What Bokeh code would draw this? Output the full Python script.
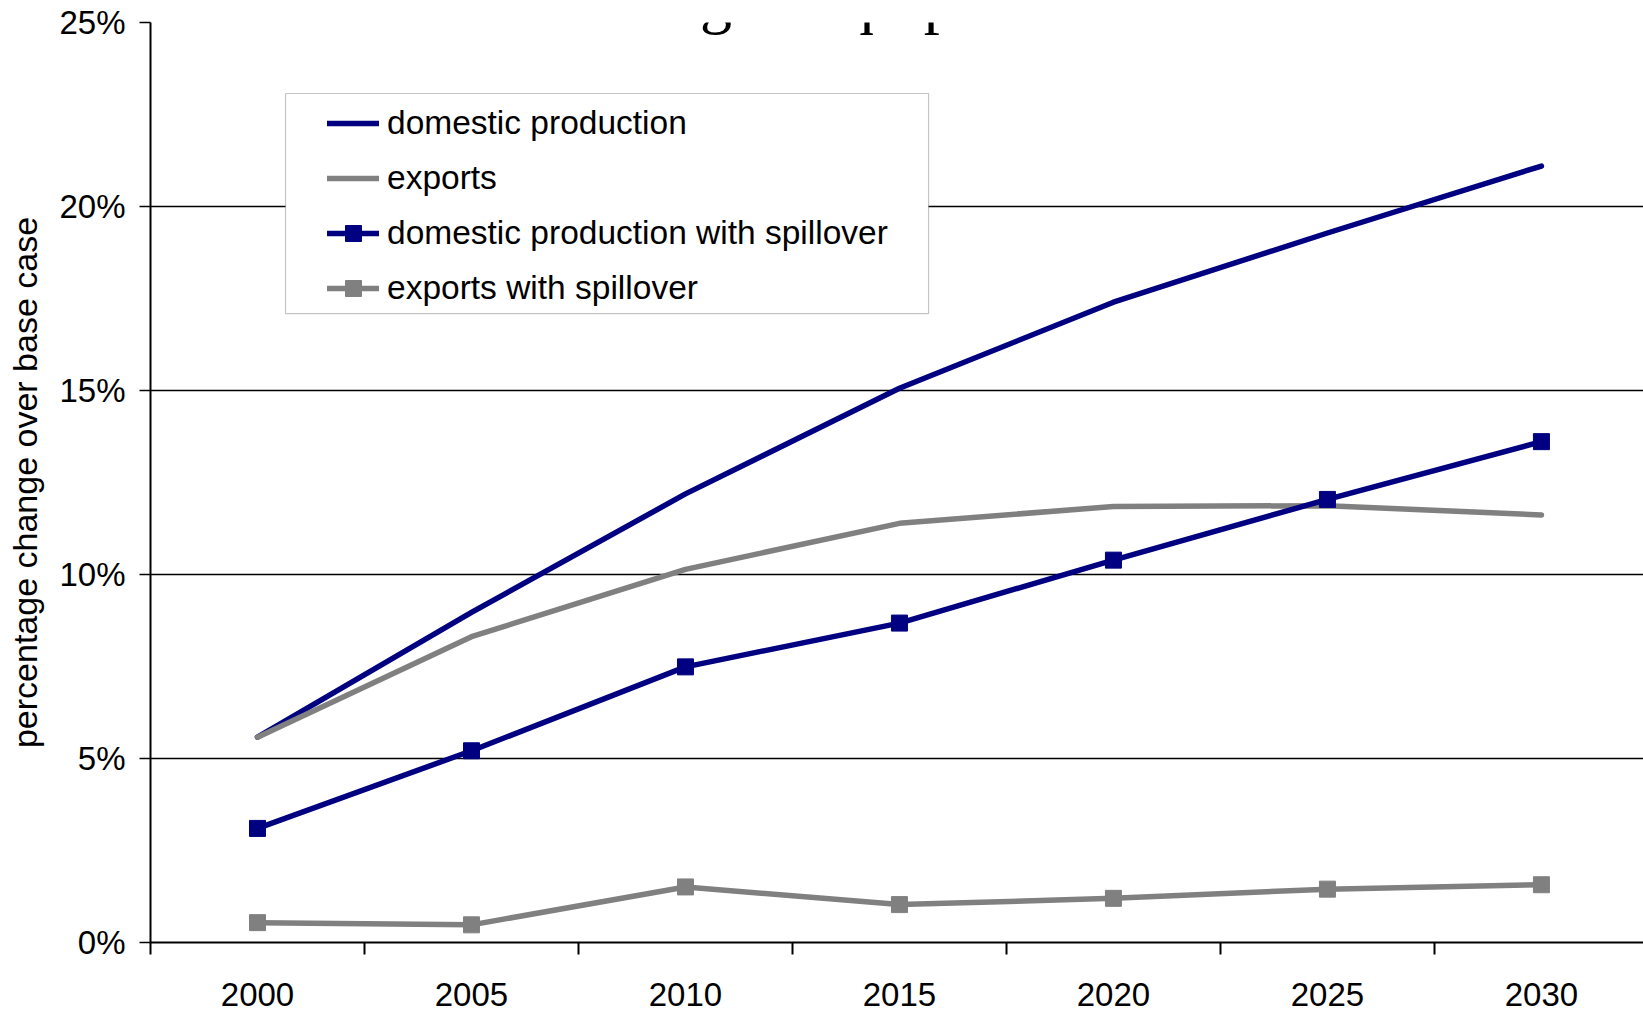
from bokeh.plotting import figure
from bokeh.embed import file_html
from bokeh.resources import INLINE
from bokeh.models import (FixedTicker, PrintfTickFormatter, Legend, LegendItem,
                          Label, BoxAnnotation, Range1d)

# ---- data ----
years = ["2000", "2005", "2010", "2015", "2020", "2025", "2030"]
domestic = [5.58, 8.97, 12.19, 15.06, 17.40, 19.28, 21.10]
exports = [5.58, 8.31, 10.14, 11.39, 11.85, 11.87, 11.62]
domestic_spill = [3.10, 5.21, 7.49, 8.68, 10.39, 12.04, 13.61]
exports_spill = [0.54, 0.48, 1.51, 1.03, 1.20, 1.45, 1.57]
y_ticks = [0, 5, 10, 15, 20, 25]
title_text = "Scenario with learning in equipment sector"
y_label = "percentage change over base case"

NAVY = "#000080"
GRAY = "#808080"
FONT = "Liberation Sans"
LW = 5.5

xs = list(range(len(years)))

p = figure(width=1643, height=1016, output_backend="svg", toolbar_location=None,
           x_range=Range1d(-0.5, 6.477), y_range=Range1d(0, 25),
           min_border_left=150, min_border_right=0, min_border_top=22,
           min_border_bottom=74)
p.outline_line_color = None
p.background_fill_color = "white"
p.border_fill_color = "white"

# axes
xa = p.xaxis[0]
xa.ticker = FixedTicker(ticks=xs, minor_ticks=[i - 0.5 for i in range(len(years) + 1)])
xa.major_label_overrides = {i: y for i, y in enumerate(years)}
xa.major_tick_line_color = None
xa.major_tick_out = 0
xa.major_tick_in = 0
xa.minor_tick_out = 12
xa.minor_tick_in = 0
xa.minor_tick_line_color = "black"
xa.minor_tick_line_width = 2
xa.axis_line_width = 2
xa.axis_line_color = "black"
xa.major_label_text_font = FONT
xa.major_label_text_font_size = "33px"
xa.major_label_text_color = "black"
xa.major_label_standoff = 28

ya = p.yaxis[0]
ya.ticker = FixedTicker(ticks=y_ticks, minor_ticks=[])
ya.formatter = PrintfTickFormatter(format="%d%%")
ya.major_tick_out = 11
ya.major_tick_in = 0
ya.major_tick_line_width = 1.5
ya.major_tick_line_color = "black"
ya.minor_tick_line_color = None
ya.axis_line_width = 2
ya.axis_line_color = "black"
ya.major_label_text_font = FONT
ya.major_label_text_font_size = "33px"
ya.major_label_text_color = "black"
ya.major_label_standoff = 14
ya.axis_label = y_label
ya.axis_label_text_font = FONT
ya.axis_label_text_font_size = "34px"
ya.axis_label_text_font_style = "normal"
ya.axis_label_text_color = "black"
ya.axis_label_standoff = 12

p.xgrid.grid_line_color = None
p.ygrid.ticker = FixedTicker(ticks=y_ticks)
p.ygrid.grid_line_color = "black"
p.ygrid.grid_line_width = 1.5

# series
common = dict(line_width=LW, line_cap="round", line_join="round")
r1 = p.line(xs, domestic, line_color=NAVY, **common)
r2 = p.line(xs, exports, line_color=GRAY, **common)
r3l = p.line(xs, domestic_spill, line_color=NAVY, **common)
r3m = p.scatter(xs, domestic_spill, marker="square", size=16, fill_color=NAVY, line_color=NAVY)
r4l = p.line(xs, exports_spill, line_color=GRAY, **common)
r4m = p.scatter(xs, exports_spill, marker="square", size=16, fill_color=GRAY, line_color=GRAY)

# legend frame (layout box, in data units of this figure)
box = BoxAnnotation(left=0.131, right=3.136, top=23.07, bottom=17.09,
                    fill_color="white", fill_alpha=1.0,
                    line_color="#404040", line_width=1.2, level="annotation")
p.add_layout(box)

legend = Legend(items=[
    LegendItem(label="domestic production", renderers=[r1]),
    LegendItem(label="exports", renderers=[r2]),
    LegendItem(label="domestic production with spillover", renderers=[r3l, r3m]),
    LegendItem(label="exports with spillover", renderers=[r4l, r4m]),
], location=(177, 634))
legend.border_line_color = None
legend.background_fill_alpha = 0
legend.padding = 0
legend.margin = 0
legend.spacing = 15
legend.glyph_width = 52
legend.glyph_height = 40
legend.label_height = 40
legend.label_standoff = 8
legend.label_text_font = FONT
legend.label_text_font_size = "33.5px"
legend.label_text_color = "black"
p.add_layout(legend)

# title, partially cut at the top of the page as in the reference
t = Label(x=-0.5, y=25.63, x_offset=2, text=title_text,
          text_font="Liberation Serif", text_font_size="64px", text_color="black",
          text_baseline="middle", text_align="left")
p.add_layout(t)

open("out.html", "w").write(file_html(p, INLINE))
